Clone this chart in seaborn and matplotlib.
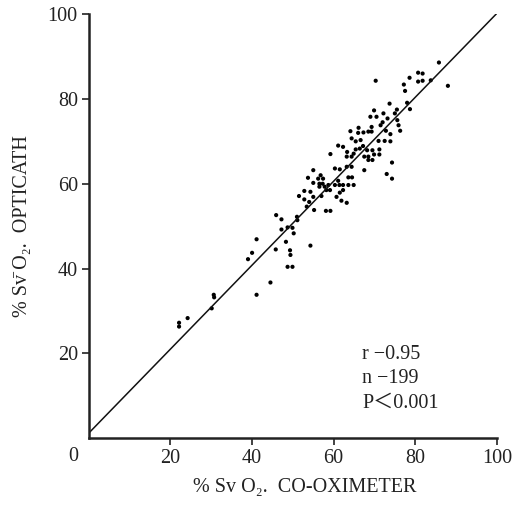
import matplotlib
matplotlib.use("Agg")
import matplotlib.pyplot as plt
import seaborn as sns
import numpy as np
import pandas as pd

# Data (co-oximeter vs opticath SvO2, %)
co_oximeter = [
    85.8, 88.0, 83.8, 80.7, 81.8, 80.7, 81.8, 78.6, 77.2, 77.5,
    70.3, 73.7, 78.0, 78.7, 75.5, 75.0, 75.6, 75.9, 76.3, 74.3,
    73.0, 74.3, 69.9, 69.0, 70.5, 72.2, 72.0, 73.2, 71.5, 72.8,
    73.9, 71.0, 72.5, 73.9, 69.3,
    64.1, 66.1, 66.0, 67.3, 68.5, 69.3, 64.4, 65.4, 66.6, 61.1,
    62.3, 63.3, 63.2, 64.4, 64.9, 65.4, 66.4, 67.2, 68.2, 69.5,
    71.2, 71.2, 69.9, 68.5, 67.5, 68.5, 69.5, 67.5, 64.4, 63.2,
    61.5, 60.3, 59.2,
    55.0, 53.7, 55.0, 56.2, 56.8, 57.4, 56.5, 57.3, 56.5, 57.8,
    58.7, 59.1, 60.3, 61.1, 61.4, 62.3, 63.6, 64.5, 64.9, 63.6,
    62.3, 61.5, 60.7, 61.9, 63.2, 52.8, 51.5, 52.8, 55.0, 57.0,
    54.0, 53.4, 55.2, 58.1, 59.2, 58.2, 54.3,
    45.9, 47.2, 51.0, 51.1, 47.2, 48.7, 49.9, 50.2, 48.3, 45.8,
    49.3, 49.4, 48.7, 49.9, 54.3, 41.1, 40.0, 39.0, 44.5, 41.1,
    22.1, 22.1, 24.2, 30.6, 30.7, 30.1,
]
opticath = [
    88.6, 83.1, 84.4, 86.2, 86.0, 84.1, 84.3, 85.0, 83.4, 81.9,
    84.3, 78.9, 79.1, 77.6, 77.5, 76.6, 75.0, 73.8, 72.5, 65.0,
    62.3, 61.2, 77.3, 75.8, 75.8, 76.6, 74.5, 75.4, 73.8, 72.5,
    71.7, 70.1, 70.1, 70.0, 73.4,
    72.4, 73.2, 72.0, 72.1, 72.3, 72.3, 70.7, 70.0, 70.3, 69.0,
    68.7, 67.5, 66.4, 66.4, 67.1, 68.1, 68.3, 68.9, 67.9, 67.9,
    68.1, 66.9, 66.9, 66.4, 66.4, 65.6, 65.6, 63.2, 64.0, 64.0,
    63.4, 63.6, 67.0,
    63.2, 61.4, 60.2, 61.2, 62.0, 61.2, 60.0, 60.0, 59.3, 59.3,
    59.7, 58.5, 59.7, 60.7, 59.7, 59.7, 61.5, 61.5, 59.7, 59.7,
    58.5, 57.9, 56.9, 56.0, 55.5, 58.3, 57.1, 56.3, 56.9, 57.1,
    55.7, 54.6, 53.8, 53.6, 53.6, 58.5, 58.1,
    52.6, 51.6, 52.2, 51.4, 49.2, 49.7, 49.6, 48.3, 46.3, 44.5,
    44.3, 43.2, 40.4, 40.4, 45.4, 46.9, 43.7, 42.2, 36.7, 33.8,
    27.2, 26.3, 28.3, 33.8, 33.2, 30.6,
]

# Regression line
line_intercept = 1.2
line_slope = 0.99
line_x = np.array([0, 100])

ticks = [20, 40, 60, 80, 100]
stats_text = ["r \u22120.95", "n \u2212199", "P\uff1c0.001"]

sns.set_style("ticks")
plt.rcParams["font.family"] = ["Liberation Serif", "DejaVu Serif", "Noto Sans CJK JP"]

df = pd.DataFrame({"co": co_oximeter, "opt": opticath})

fig = plt.figure(figsize=(5.23, 5.07), dpi=100)
ax = fig.add_axes([0.170, 0.136, 0.780, 0.836])

sns.scatterplot(data=df, x="co", y="opt", ax=ax, color="black", s=9,
                edgecolor="none", linewidth=0, legend=False)
sns.lineplot(x=line_x, y=line_intercept + line_slope * line_x, ax=ax,
             color="#111111", linewidth=1.1)

ax.set_xlim(0, 100)
ax.set_ylim(0, 100)
ax.set_xticks(ticks)
ax.set_yticks(ticks)
ax.set_xticklabels([str(t) for t in ticks])
ax.set_yticklabels([str(t) for t in ticks])
ax.tick_params(direction="out", length=5, width=1.2, labelsize=14.5,
               colors="#222222", pad=3)
for side in ["top", "right"]:
    ax.spines[side].set_visible(False)
for side in ["left", "bottom"]:
    ax.spines[side].set_linewidth(1.8)
    ax.spines[side].set_color("#222222")

ax.text(-2.5, -2.2, "0", ha="right", va="top", fontsize=14.5, color="#222222")

ax.set_xlabel("% Sv O\u2082.  CO-OXIMETER", fontsize=14.5, color="#222222")
ax.set_ylabel("% S\u0076\u0304 O\u2082.  OPTICATH", fontsize=14.5, color="#222222")
ax.xaxis.set_label_coords(0.53, -0.095)
ax.yaxis.set_label_coords(-0.14, 0.50)

ax.text(67.0, 22.0, "\n".join(stats_text), ha="left", va="top",
        fontsize=14.5, color="#222222", linespacing=1.4)

fig.savefig("out.png", dpi=100, facecolor="white")
